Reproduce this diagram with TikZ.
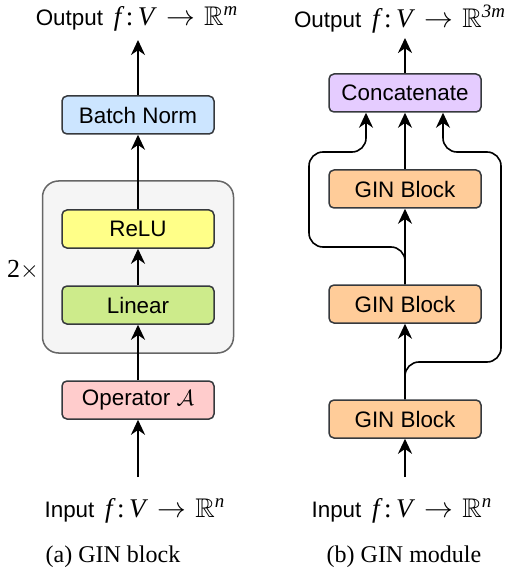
\documentclass[tikz,border=0pt]{standalone}
\usepackage{amsmath,amssymb}
\usepackage{fontspec}
\setmainfont{Liberation Serif}
\setsansfont{Liberation Sans}
\usepackage{tikz}
\usetikzlibrary{calc,arrows.meta}
\definecolor{edgegray}{HTML}{36393D}
\definecolor{normblue}{HTML}{CCE5FF}
\definecolor{relufill}{HTML}{FFFF88}
\definecolor{linfill}{HTML}{CDEB8B}
\definecolor{opfill}{HTML}{FFCCCC}
\definecolor{ginfill}{HTML}{FFCC99}
\definecolor{catfill}{HTML}{E5CCFF}
\def\drawflow{\draw[flow]}
\def\drawbold{\draw[flow, line width=1.4pt]}
\def\layernode{\node[layer]}
\def\serifit#1{{\rmfamily\itshape #1}}
\def\fmap#1{{\fontsize{13.5}{15}\selectfont\,\serifit{f}\,{\rmfamily:}\,\serifit{V}\;\,$\rightarrow$\,\,$\mathbb{R}^{\text{\rmfamily\itshape #1}}$}}

\begin{document}
\begin{tikzpicture}[x=0.5pt,y=-0.5pt,
  layer/.style={draw=edgegray, line width=0.75pt, rounded corners=2.5pt,
    minimum width=76pt, minimum height=19pt, inner sep=0pt,
    font=\fontsize{11.2}{13}\selectfont\sffamily},
  flow/.style={-{Stealth[length=7.5pt,width=7pt,inset=2.4pt]}, line width=0.8pt},
  iotext/.style={inner sep=0pt, font=\fontsize{11.2}{13}\selectfont\sffamily},
  captext/.style={inner sep=0pt, font=\fontsize{12}{14}\selectfont\rmfamily}]
\useasboundingbox (0,0) rectangle (508,572);

% -------- (a) block ---------
\node[draw=black!60, fill=black!4, line width=0.75pt, rounded corners=8pt,
  minimum width=95.5pt, minimum height=86pt] (rep) at (138,267) {};
\node[inner sep=0pt, font=\fontsize{13}{15}\selectfont] (reptimes) at (23,270) {2$\times$};
\layernode[fill=normblue] (bn) at (138,115) {Batch Norm};
\layernode[fill=relufill] (relu) at (138,229) {ReLU};
\layernode[fill=linfill] (lin) at (138,305) {Linear};
\layernode[fill=opfill] (op) at (138,400) {Operator $\mathcal{A}$};
\node[iotext] (outa) at (137,19) {Output \fmap{m}};
\node[iotext] (ina) at (135,511) {Input \fmap{n}};
\node[captext] (capa) at (113,557) {(a) GIN block};
\coordinate (srca) at (138,477);
\coordinate (snka) at (138,40);
\drawbold (srca) to (op);
\drawbold (op) to (lin);
\drawbold (lin) to (relu);
\drawflow (relu) to (bn);
\drawflow (bn) to (snka);

% -------- (b) module ---------
\layernode[fill=catfill] (cat) at (405,93) {Concatenate};
\layernode[fill=ginfill] (gin3) at (405,189) {GIN Block};
\layernode[fill=ginfill] (gin2) at (405,304) {GIN Block};
\layernode[fill=ginfill] (gin1) at (405,419) {GIN Block};
\node[iotext] (outb) at (400,19) {Output \fmap{3m}};
\node[iotext] (inb) at (402,511) {Input \fmap{n}};
\node[captext] (capb) at (404,557) {(b) GIN module};
\coordinate (srcb) at (405,477);
\coordinate (snkb) at (405,38);
\coordinate (catl) at ($ (cat.south) + (-39,0) $); % left input of concat
\coordinate (catr) at ($ (cat.south) + (38,0) $);  % right input of concat
\drawbold (srcb) to (gin1);
\drawflow (gin1) to (gin2);
\drawflow (gin2) to (gin3);
\drawflow (gin3) to (cat);
\drawbold (cat) to (snkb);
% skip connections round the stack
\drawflow[rounded corners=7pt] (gin2.north) -- (405,247) -- (309,247) -- (309,152) -- (catl |- 0,152) -- (catl);
\drawflow[rounded corners=7pt] (gin1.north) -- (405,362) -- (501,362) -- (501,152) -- (catr |- 0,152) -- (catr);
\end{tikzpicture}
\end{document}
